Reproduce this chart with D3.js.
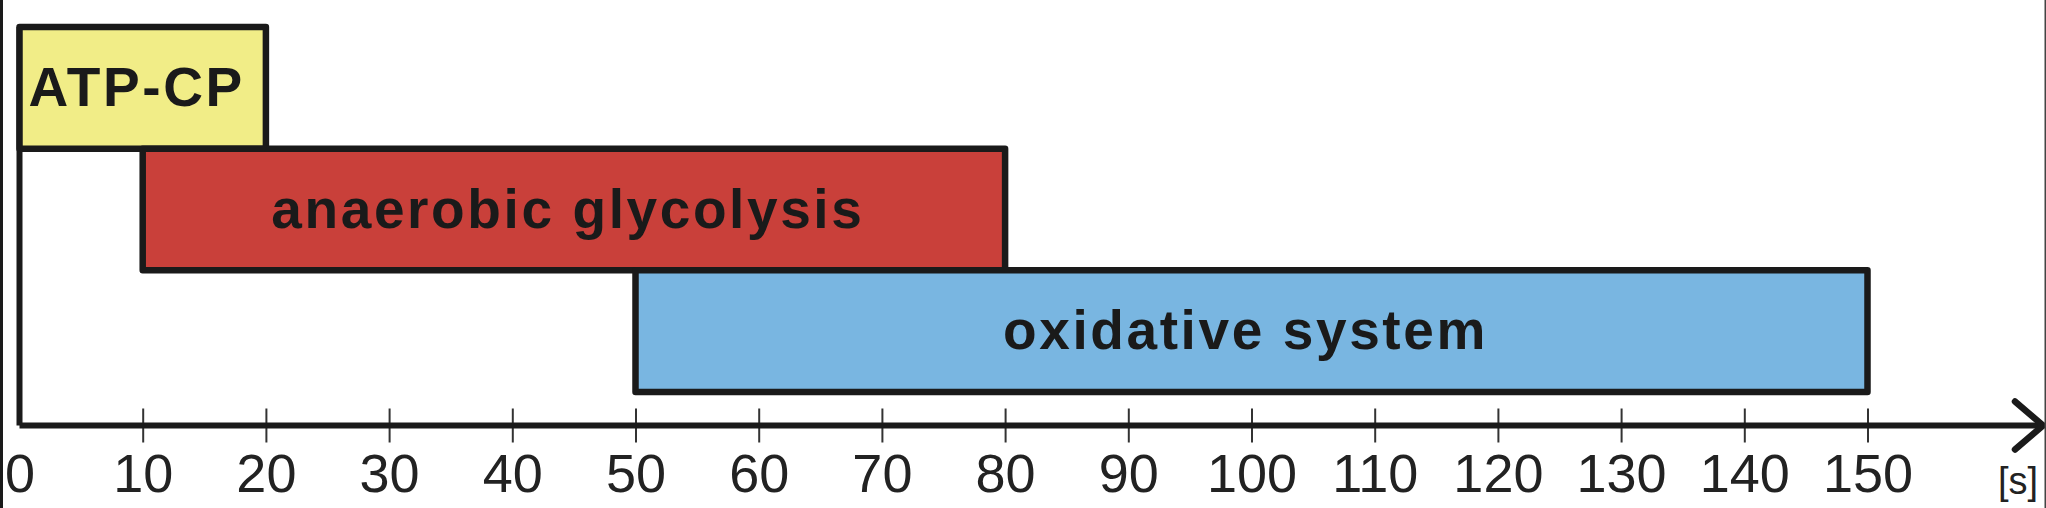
<!DOCTYPE html>
<html>
<head>
<meta charset="utf-8">
<script src="https://cdn.jsdelivr.net/npm/d3@7"></script>
<style>
  html, body { margin: 0; padding: 0; background: #fff; }
  svg { display: block; }
</style>
</head>
<body>
<script>
// energy systems and their time ranges (seconds)
var systems = ['ATP-CP', 'anaerobic glycolysis', 'oxidative system'];
var starts = [0, 10, 50];
var ends = [20, 80, 150];
var ticks = [0, 10, 20, 30, 40, 50, 60, 70, 80, 90, 100, 110, 120, 130, 140, 150];
var unitLabel = '[s]';

var fills = ['#f1ed87', '#c9403a', '#79b6e1'];
var ink = '#1a1a1a';

var width = 2046;
var height = 508;
var axisY = 425.5;

var svg = d3.select('body').append('svg')
  .attr('width', width)
  .attr('height', height);

var x = d3.scaleLinear().domain([0, 150]).range([19.5, 1867.5]);
var y = d3.scaleBand().domain(systems).range([27, 392]).padding(0);

var rows = systems.map(function(name, i) {
  return { name: name, start: starts[i], end: ends[i], fill: fills[i] };
});

// y axis line
svg.append('line')
  .attr('x1', x(0)).attr('x2', x(0))
  .attr('y1', y.range()[0]).attr('y2', axisY)
  .attr('stroke', ink)
  .attr('stroke-width', 6);

var bars = svg.append('g').attr('class', 'bars');

bars.selectAll('rect').data(rows).enter().append('rect')
  .attr('x', function(d) { return x(d.start); })
  .attr('y', function(d) { return y(d.name); })
  .attr('width', function(d) { return x(d.end) - x(d.start); })
  .attr('height', y.bandwidth())
  .attr('fill', function(d) { return d.fill; })
  .attr('stroke', ink)
  .attr('stroke-width', 6.5)
  .attr('stroke-linejoin', 'round');

bars.selectAll('text').data(rows).enter().append('text')
  .attr('x', function(d) { return (x(d.start) + x(d.end)) / 2 - 6; })
  .attr('y', function(d) { return y(d.name) + y.bandwidth() / 2; })
  .attr('dy', '0.33em')
  .attr('text-anchor', 'middle')
  .attr('font-family', '"Liberation Sans", Arial, sans-serif')
  .attr('font-weight', 'bold')
  .attr('font-size', 55)
  .attr('letter-spacing', 2.6)
  .attr('fill', ink)
  .text(function(d) { return d.name; });

// x axis
var axis = d3.axisBottom(x)
  .tickValues(ticks)
  .tickSize(17)
  .tickFormat(d3.format('d'));

var axisG = svg.append('g')
  .attr('transform', 'translate(0,' + axisY + ')')
  .call(axis);

axisG.select('.domain').remove();
axisG.selectAll('.tick line')
  .attr('y1', -17)
  .attr('y2', 17)
  .attr('stroke', '#333')
  .attr('stroke-width', 2)
  .filter(function(d) { return d === 0; }).remove();
axisG.selectAll('.tick text')
  .attr('y', 66.5)
  .attr('dy', 0)
  .attr('font-family', '"Liberation Sans", Arial, sans-serif')
  .attr('font-size', 54)
  .attr('fill', '#222');

// axis line with arrow head
var tipX = 2043;
svg.append('path')
  .attr('d', 'M' + x(0) + ',' + axisY + 'H' + tipX)
  .attr('stroke', ink)
  .attr('stroke-width', 6)
  .attr('fill', 'none');
svg.append('path')
  .attr('d', 'M' + (tipX - 28) + ',' + (axisY - 24) + 'L' + tipX + ',' + axisY + 'L' + (tipX - 28) + ',' + (axisY + 24))
  .attr('stroke', ink)
  .attr('stroke-width', 6.5)
  .attr('stroke-linecap', 'round')
  .attr('stroke-linejoin', 'round')
  .attr('fill', 'none');

svg.append('text')
  .attr('x', 2038)
  .attr('y', 494)
  .attr('text-anchor', 'end')
  .attr('font-family', '"Liberation Sans", Arial, sans-serif')
  .attr('font-size', 38)
  .attr('fill', '#222')
  .text(unitLabel);

// frame edges
svg.append('rect').attr('x', 0).attr('y', 0).attr('width', 3).attr('height', height).attr('fill', ink);
svg.append('rect').attr('x', 2044.5).attr('y', 0).attr('width', 1.5).attr('height', height).attr('fill', '#444');
</script>
</body>
</html>
